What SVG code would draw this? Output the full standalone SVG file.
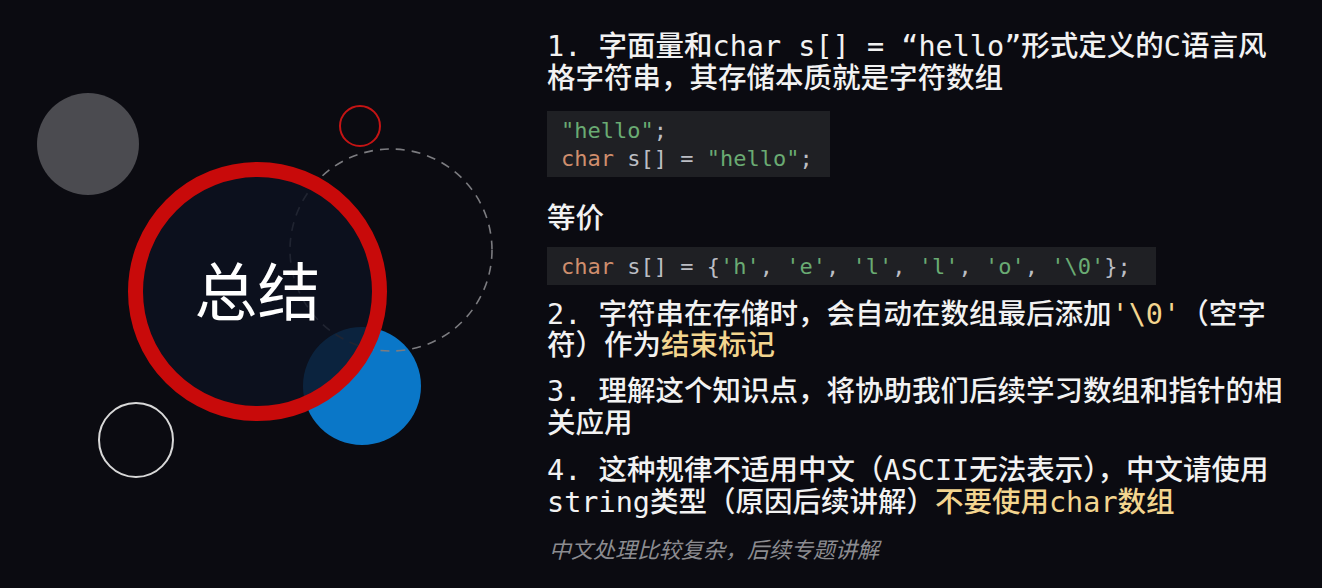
<svg xmlns="http://www.w3.org/2000/svg" width="1322" height="588" viewBox="0 0 1322 588">
<style>
.t{font-family:"DejaVu Sans Mono","Noto Sans CJK SC",monospace;font-size:28.5px;fill:#f2f2f2;font-weight:500}
.y{fill:#f3d58f}
.code{font-family:"DejaVu Sans Mono","Liberation Mono",monospace;font-size:22px;fill:#bcbec4}
.kw{fill:#cf8e6d}
.str{fill:#6aab73}
.cb{fill:#1f2024}
.note{font-family:"Noto Sans CJK SC",sans-serif;font-size:22px;fill:#8c8c90;font-style:italic}
</style>
<rect width="1322" height="588" fill="#0b0b11"/>
<g id="decor">
  <circle id="gray-dot" cx="88" cy="144" r="51" fill="#4b4b50"/>
  <circle id="red-small" cx="360" cy="126" r="20" fill="none" stroke="#c41414" stroke-width="2"/>
  <circle id="white-ring" cx="136" cy="440" r="37" fill="none" stroke="#d8d8d8" stroke-width="2"/>
  <circle id="blue-dot" cx="362" cy="386" r="59" fill="#0a77c8"/>
  <circle id="dashed-ring" cx="391" cy="250" r="101" fill="none" stroke="#7c7c80" stroke-width="1.6" stroke-dasharray="9 7"/>
</g>
<g id="title-node">
  <circle cx="257.5" cy="291.5" r="122" fill="#0c1120" fill-opacity="0.82" stroke="#c80a0a" stroke-width="15"/>
  <text x="257.5" y="315" text-anchor="middle" font-family="Noto Sans CJK SC, sans-serif" font-size="63" fill="#ffffff">总结</text>
</g>
<g id="point1">
  <text class="t" x="547" y="56">1. 字面量和char s[] = “hello”形式定义的C语言风</text>
  <text class="t" x="547" y="88">格字符串，其存储本质就是字符数组</text>
</g>
<g id="code1">
  <rect class="cb" x="547" y="111" width="283" height="66"/>
  <text class="code" x="561" y="138"><tspan class="str">"hello"</tspan>;</text>
  <text class="code" x="561" y="166"><tspan class="kw">char</tspan> s[] = <tspan class="str">"hello"</tspan>;</text>
</g>
<g id="equiv">
  <text class="t" x="547" y="228">等价</text>
</g>
<g id="code2">
  <rect class="cb" x="547" y="247" width="609" height="38"/>
  <text class="code" x="561" y="274"><tspan class="kw">char</tspan> s[] = {<tspan class="str">'h'</tspan>, <tspan class="str">'e'</tspan>, <tspan class="str">'l'</tspan>, <tspan class="str">'l'</tspan>, <tspan class="str">'o'</tspan>, <tspan class="str">'\0'</tspan>};</text>
</g>
<g id="point2">
  <text class="t" x="547" y="324">2. 字符串在存储时，会自动在数组最后添加<tspan class="y">'\0'</tspan>（空字</text>
  <text class="t" x="547" y="355">符）作为<tspan class="y">结束标记</tspan></text>
</g>
<g id="point3">
  <text class="t" x="547" y="401">3. 理解这个知识点，将协助我们后续学习数组和指针的相</text>
  <text class="t" x="547" y="433">关应用</text>
</g>
<g id="point4">
  <text class="t" x="547" y="480">4. 这种规律不适用中文（ASCII无法表示），中文请使用</text>
  <text class="t" x="547" y="512">string类型（原因后续讲解）<tspan class="y">不要使用char数组</tspan></text>
</g>
<g id="note">
  <text class="note" x="549" y="558">中文处理比较复杂，后续专题讲解</text>
</g>
</svg>
